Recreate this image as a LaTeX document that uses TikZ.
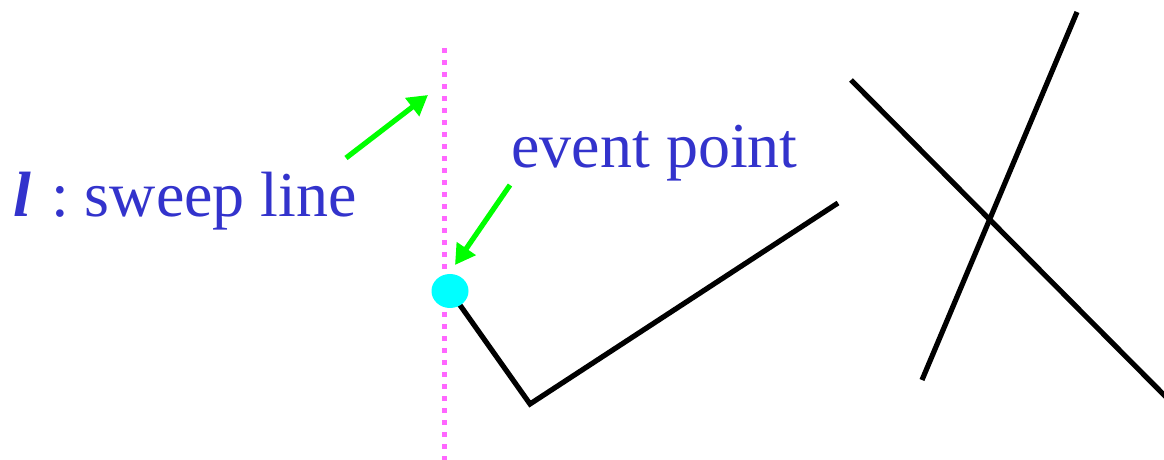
\documentclass[tikz,border=0pt]{standalone}
\usepackage{fontspec}
\setmainfont{Liberation Serif}
\usetikzlibrary{arrows.meta,shapes.geometric}
\definecolor{sweepc}{HTML}{FF66FF}
\definecolor{labelc}{HTML}{3333CC}
\definecolor{arrowc}{HTML}{00FF00}
\definecolor{dotc}{HTML}{00FFFF}
\tikzset{
  seg/.style={line width=2.6pt, black},
  sweepline/.style={line width=2.5pt, sweepc, dash pattern=on 2.5pt off 3.5pt},
  ptr/.style={line width=2.6pt, arrowc, -{Triangle[length=10pt,width=11pt]}, shorten >=0pt},
  lbl/.style={labelc, font=\fontsize{32pt}{36pt}\selectfont, inner sep=0pt, anchor=base west},
}
\begin{document}
\begin{tikzpicture}[x=0.5pt,y=-0.5pt]
\useasboundingbox (0,0) rectangle (1164,460);
% sweep line
\coordinate (st) at (444,48);
\coordinate (sb) at (444,460);
\draw[sweepline] (st) -- (sb);
% polyline
\coordinate (p1) at (450,291);
\coordinate (p2) at (530,404);
\coordinate (p3) at (838,203);
\draw[seg, line join=miter] (p1) -- (p2) -- (p3);
% event point
\node[ellipse, fill=dotc, minimum width=18.5pt, minimum height=17pt, inner sep=0pt] (ev) at (450,291) {};
% X lines
\coordinate (a1) at (851,80);
\coordinate (a2) at (1170,401);
\coordinate (b1) at (1077,12);
\coordinate (b2) at (922,380);
\draw[seg] (a1) -- (a2);
\draw[seg] (b1) -- (b2);
% labels
\node[lbl] (sl) at (13,217) {\textbf{\textit{l}}\hspace{10pt}:\hspace{8pt}sweep line};
\node[lbl] (ep) at (511,168) {event point};
% arrows
\coordinate (ar1s) at (346,158);
\coordinate (ar1e) at (428,95);
\coordinate (ar2s) at (510,185);
\coordinate (ar2e) at (455,265);
\draw[ptr] (ar1s) -- (ar1e);
\draw[ptr] (ar2s) -- (ar2e);
\end{tikzpicture}
\end{document}
